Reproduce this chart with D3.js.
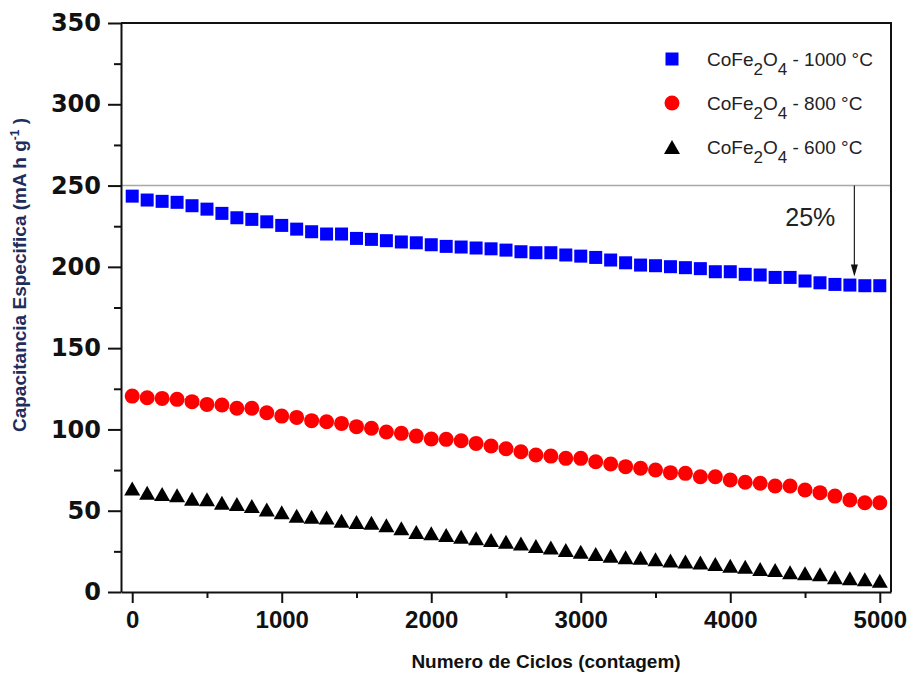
<!DOCTYPE html>
<html>
<head>
<meta charset="utf-8">
<script src="https://cdn.jsdelivr.net/npm/d3@7"></script>
<style>
    html, body { margin: 0; padding: 0; background: #fff; }
    svg { display: block; }
</style>
</head>
<body>
<div id="chart"></div>
<script>
// 循环次数 (x)
const cycles = [0, 100, 200, 300, 400, 500, 600, 700, 800, 900,
    1000, 1100, 1200, 1300, 1400, 1500, 1600, 1700, 1800, 1900,
    2000, 2100, 2200, 2300, 2400, 2500, 2600, 2700, 2800, 2900,
    3000, 3100, 3200, 3300, 3400, 3500, 3600, 3700, 3800, 3900,
    4000, 4100, 4200, 4300, 4400, 4500, 4600, 4700, 4800, 4900, 5000];

// 比容量 - CoFe2O4 1000 °C
const cap1000 = [243.5, 241.1, 240.3, 239.7, 237.6, 235.5, 232.9, 230.2, 229.2, 227.7,
    225.5, 223.2, 221.6, 220.2, 220.2, 217.5, 216.9, 216.1, 215.3, 214.8,
    213.6, 212.6, 212.2, 211.6, 211.1, 210.3, 209.3, 208.7, 208.7, 207.3,
    206.6, 205.8, 204.2, 202.5, 201.1, 200.7, 200.1, 199.5, 198.9, 197.0,
    197.0, 195.4, 195.0, 193.5, 193.5, 191.3, 190.2, 189.2, 188.8, 188.4, 188.4];

// 比容量 - CoFe2O4 800 °C
const cap800 = [120.5, 119.5, 119.1, 118.5, 117.1, 115.4, 115.0, 113.0, 113.0, 110.3,
    108.2, 107.4, 105.4, 104.7, 103.7, 101.7, 100.7, 98.4, 97.6, 95.9,
    94.1, 93.9, 93.0, 91.4, 89.8, 88.1, 86.3, 84.3, 83.6, 82.2,
    82.2, 80.1, 78.7, 77.1, 76.1, 75.0, 73.4, 73.0, 70.9, 70.9,
    68.9, 67.5, 66.9, 65.2, 65.2, 62.7, 61.1, 59.0, 56.6, 54.9, 54.9];

// 比容量 - CoFe2O4 600 °C
const cap600 = [63.7, 61.1, 60.3, 59.5, 57.4, 57.0, 54.9, 54.1, 52.9, 50.8,
    49.0, 46.9, 46.3, 45.9, 43.9, 43.1, 42.6, 41.0, 39.2, 36.9,
    36.1, 35.1, 34.0, 33.0, 32.0, 30.9, 29.9, 28.3, 27.3, 25.8,
    24.8, 23.4, 22.3, 21.3, 21.1, 20.1, 19.3, 18.7, 18.1, 17.2,
    16.2, 15.6, 14.1, 13.5, 12.1, 11.5, 10.9, 9.0, 8.4, 7.8, 6.9];

// 刻度
const xTicks = [0, 1000, 2000, 3000, 4000, 5000];
const xMinorTicks = [500, 1500, 2500, 3500, 4500];
const yTicks = [0, 50, 100, 150, 200, 250, 300, 350];
const yMinorTicks = [25, 75, 125, 175, 225, 275, 325];

// 图例 / 参考线 / 箭头
const seriesNames = ['1000 °C', '800 °C', '600 °C'];
const refLevel = 250;
const arrowCycle = 4830;
const arrowTo = 194;
const arrowLabel = '25%';

const width = 913, height = 673;
const margin = { top: 23, right: 22, bottom: 81, left: 121 };

const svg = d3.select('#chart')
    .append('svg')
    .attr('width', width)
    .attr('height', height)
    .style('font-family', '"Liberation Sans", Arial, sans-serif');

const x = d3.scaleLinear()
    .domain([-75, 5075])
    .range([margin.left, width - margin.right]);

const y = d3.scaleLinear()
    .domain([0, 350])
    .range([height - margin.bottom, margin.top]);

const x0 = x.range()[0], x1 = x.range()[1];
const y0 = y.range()[0], y1 = y.range()[1];

// 参考线 250
svg.append('line')
    .attr('x1', x0).attr('x2', x1)
    .attr('y1', y(refLevel)).attr('y2', y(refLevel))
    .attr('stroke', '#a8a8a8')
    .attr('stroke-width', 1.5);

// 边框 (上, 右)
svg.append('path')
    .attr('d', `M${x0},${y1}H${x1}V${y0}`)
    .attr('fill', 'none')
    .attr('stroke', '#111')
    .attr('stroke-width', 2);

// Y轴
const yAxis = svg.append('g')
    .attr('transform', `translate(${x0},0)`)
    .call(d3.axisLeft(y).tickValues(yTicks).tickFormat(d3.format('d')).tickSize(13).tickSizeOuter(0).tickPadding(7));
yAxis.selectAll('text')
    .style('font-family', '"DejaVu Sans", sans-serif')
    .style('font-weight', 'bold')
    .style('font-size', '24px')
    .attr('fill', '#111');

svg.append('g')
    .attr('transform', `translate(${x0},0)`)
    .call(d3.axisLeft(y).tickValues(yMinorTicks).tickSize(7).tickFormat(''))
    .call(g => g.select('.domain').remove());

// X轴
const xAxis = svg.append('g')
    .attr('transform', `translate(0,${y0})`)
    .call(d3.axisBottom(x).tickValues(xTicks).tickFormat(d3.format('d')).tickSize(11).tickSizeOuter(0).tickPadding(8));
xAxis.selectAll('text')
    .style('font-weight', 'bold')
    .style('font-size', '24px')
    .attr('fill', '#111');

svg.append('g')
    .attr('transform', `translate(0,${y0})`)
    .call(d3.axisBottom(x).tickValues(xMinorTicks).tickSize(6).tickFormat(''))
    .call(g => g.select('.domain').remove());

svg.selectAll('.domain, .tick line')
    .attr('stroke', '#111')
    .attr('stroke-width', 2);

// 坐标轴标题
svg.append('text')
    .attr('x', 546)
    .attr('y', 668)
    .attr('text-anchor', 'middle')
    .style('font-weight', 'bold')
    .style('font-size', '19px')
    .attr('fill', '#111')
    .text('Numero de Ciclos (contagem)');

const yTitle = svg.append('text')
    .attr('transform', 'translate(26,275) rotate(-90)')
    .attr('text-anchor', 'middle')
    .style('font-weight', 'bold')
    .style('font-size', '19px')
    .attr('fill', '#1f2d5c');
yTitle.append('tspan').text('Capacitancia Especifica  (mA h g');
yTitle.append('tspan').attr('dy', -7).style('font-size', '12px').text('-1');
yTitle.append('tspan').attr('dy', 7).text(' )');

// 标记形状
const triPath = (w, h) => `M0,${-h / 2}L${w / 2},${h / 2}L${-w / 2},${h / 2}Z`;

function drawMarker(g, kind) {
    if (kind === 0) {
        g.append('rect').attr('x', -6.5).attr('y', -6.5).attr('width', 13).attr('height', 13).attr('fill', '#0000ff');
    } else if (kind === 1) {
        g.append('circle').attr('r', 7.5).attr('fill', '#ff0000');
    } else {
        g.append('path').attr('d', triPath(16, 14)).attr('fill', '#000');
    }
}

const series = [cap1000, cap800, cap600];

series.forEach((values, i) => {
    const pts = svg.append('g');
    cycles.forEach((c, j) => {
        const g = pts.append('g').attr('transform', `translate(${x(c)},${y(values[j])})`);
        drawMarker(g, i);
    });
});

// 箭头 25%
const ax = x(arrowCycle);
svg.append('line')
    .attr('x1', ax).attr('x2', ax)
    .attr('y1', y(refLevel)).attr('y2', y(arrowTo) - 10)
    .attr('stroke', '#222')
    .attr('stroke-width', 1.2);
svg.append('path')
    .attr('d', `M${ax - 3.5},${y(arrowTo) - 12}L${ax + 3.5},${y(arrowTo) - 12}L${ax},${y(arrowTo)}Z`)
    .attr('fill', '#111');
svg.append('text')
    .attr('x', ax - 19)
    .attr('y', 226)
    .attr('text-anchor', 'end')
    .style('font-size', '25px')
    .attr('fill', '#222')
    .text(arrowLabel);

// 图例
const legend = svg.append('g').attr('transform', 'translate(672,59)');
seriesNames.forEach((name, i) => {
    const row = legend.append('g').attr('transform', `translate(0,${i * 44})`);
    drawMarker(row, i);
    const t = row.append('text')
        .attr('x', 35)
        .attr('y', 7)
        .style('font-size', '19px')
        .attr('fill', '#222');
    t.append('tspan').text('CoFe');
    t.append('tspan').attr('dy', 9).style('font-size', '17px').text('2');
    t.append('tspan').attr('dy', -9).text('O');
    t.append('tspan').attr('dy', 9).style('font-size', '17px').text('4');
    t.append('tspan').attr('dy', -9).text(' - ' + name);
});
</script>
</body>
</html>
